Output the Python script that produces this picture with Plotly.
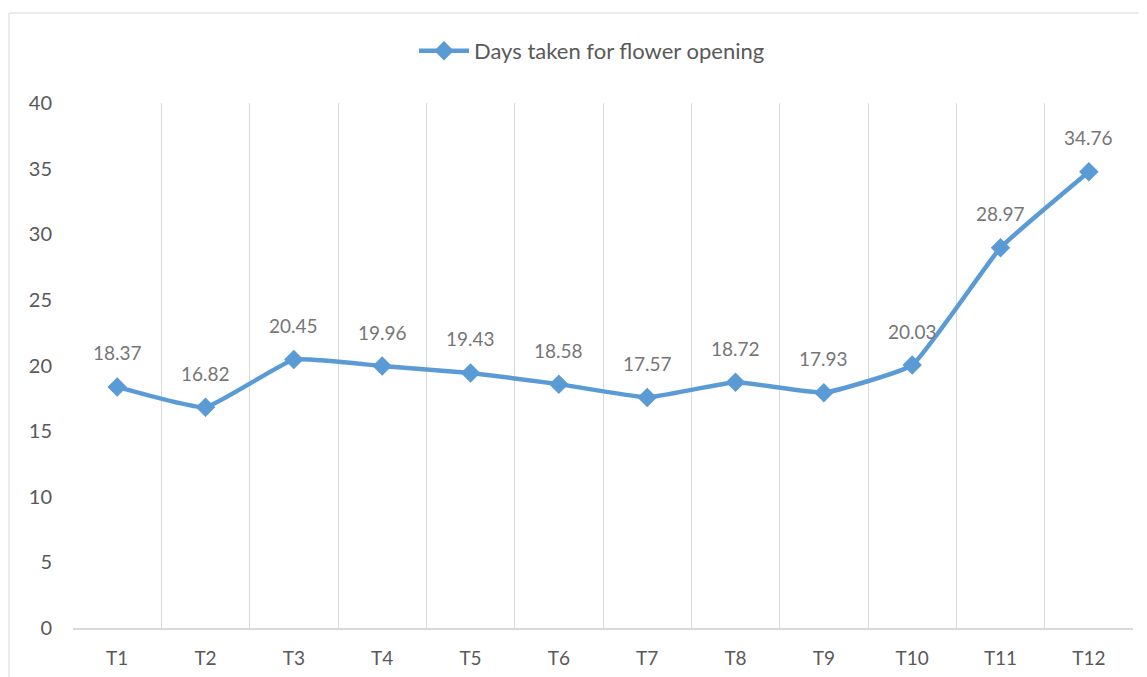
import plotly.graph_objects as go

categories = ["T1", "T2", "T3", "T4", "T5", "T6", "T7", "T8", "T9", "T10", "T11", "T12"]
days = [18.37, 16.82, 20.45, 19.96, 19.43, 18.58, 17.57, 18.72, 17.93, 20.03, 28.97, 34.76]
series_name = "Days taken for flower opening"
y_ticks = [0, 5, 10, 15, 20, 25, 30, 35, 40]

FONT = "Lato, Carlito, Calibri, sans-serif"
BLUE = "#5B9BD5"
OFF = 8  # page body margin

fig = go.Figure()
fig.add_trace(go.Scatter(
    x=categories, y=days, name=series_name,
    mode="lines+markers",
    line=dict(color=BLUE, width=4.5, shape="spline", smoothing=0.35),
    marker=dict(symbol="diamond", size=15, color=BLUE),
    cliponaxis=False,
))

for c, v in zip(categories, days):
    fig.add_annotation(x=c, y=v, text=f"{v:.2f}", showarrow=False, yshift=34,
                       yanchor="middle", xanchor="center",
                       font=dict(family=FONT, size=19, color="#767676"))

W, H = 1147 - OFF, 677 - OFF
L, R, T, B = 73 - OFF, 14, 103 - OFF, 49
pw, ph = W - L - R, H - T - B

def px_x(p):
    return (p - OFF - L) / pw

def px_y(p):
    return (H - B - (p - OFF)) / ph

fig.add_shape(type="rect", xref="paper", yref="paper",
              x0=px_x(9), x1=px_x(1170), y0=px_y(700), y1=px_y(13),
              line=dict(color="#d9d9d9", width=1), fillcolor="rgba(0,0,0,0)", layer="below")

fig.update_layout(
    width=W, height=H,
    margin=dict(l=L, r=R, t=T, b=B, autoexpand=False),
    paper_bgcolor="white", plot_bgcolor="white",
    font=dict(family=FONT, color="#595959"),
    showlegend=True,
    legend=dict(orientation="h", x=0.5 - 11 / pw, xanchor="center", y=px_y(51), yanchor="middle",
                font=dict(family=FONT, size=22, color="#595959"), itemwidth=50),
    xaxis=dict(type="category", tickson="boundaries", showgrid=True, gridcolor="#d9d9d9", gridwidth=1.3,
               showline=True, linecolor="#d9d9d9", linewidth=1.5, ticks="", automargin=False,
               tickfont=dict(family=FONT, size=19, color="#595959"), ticklabelstandoff=12,
               range=[-0.5, 11.5], zeroline=False, mirror=False),
    yaxis=dict(range=[0, 40], tickvals=y_ticks, showgrid=False, zeroline=False, showline=False,
               ticks="", automargin=False,
               tickfont=dict(family=FONT, size=20, color="#595959"), ticklabelstandoff=20),
)

fig.write_html("out.html")
